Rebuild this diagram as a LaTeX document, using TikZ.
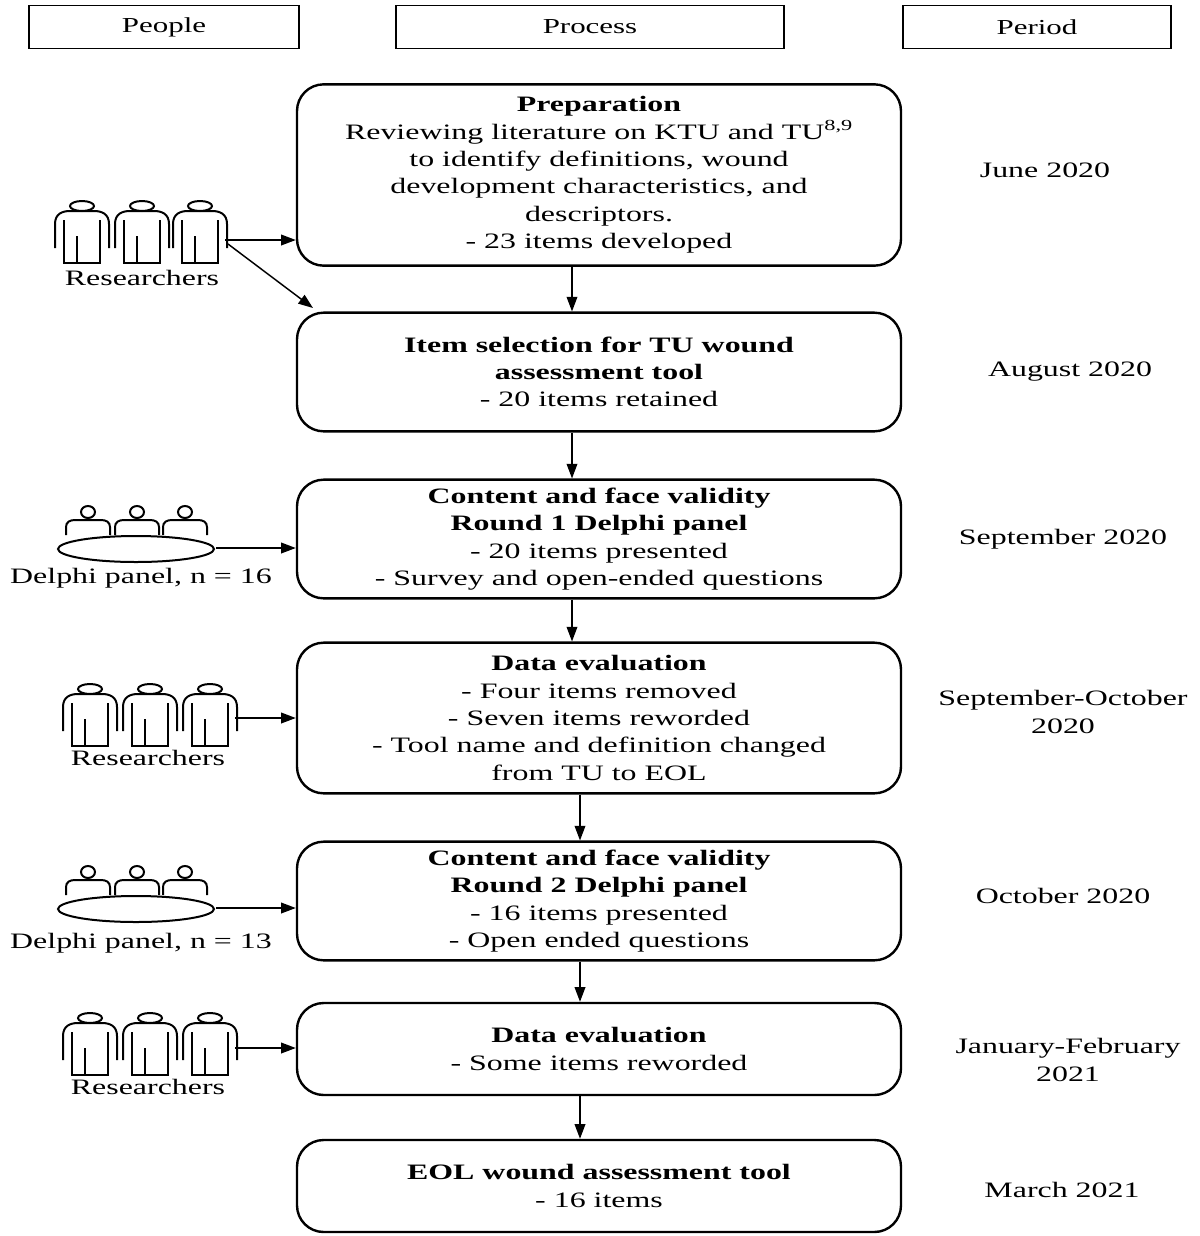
\documentclass[tikz,border=0pt]{standalone}
\usepackage{fontspec}
\setmainfont{Liberation Serif}[FakeStretch=1.45]
\usetikzlibrary{arrows.meta}
\begin{document}
\begin{tikzpicture}[x=0.75pt,y=-0.75pt,
  hdr/.style={draw,line width=1pt,minimum width=#1*0.75pt,minimum height=32pt,inner sep=0pt,font=\fontsize{16}{18}\selectfont},
  box/.style={draw,line width=1.8pt,rounded corners=20pt,minimum width=453pt,align=center,font=\fontsize{16.5}{20.5}\selectfont},
  per/.style={align=center,font=\fontsize{16.5}{20.5}\selectfont},
  lab/.style={font=\fontsize{16.5}{20}\selectfont},
  arr/.style={-{Triangle[length=11pt,width=8pt]},line width=1.1pt},
  icon/.style={line width=1.5pt}]
\useasboundingbox (0,0) rectangle (1200,1236);
\tikzset{
 researcher/.pic={
   \draw[icon] (0,6) ellipse (12 and 5);
   \draw[icon] (-27,48) -- (-27,24) .. controls (-27,14) and (-20,11) .. (-12,11) -- (12,11) .. controls (20,11) and (27,14) .. (27,24) -- (27,48);
   \draw[icon] (-18,20) -- (-18,63) -- (18,63) -- (18,20);
   \draw[icon] (-5,63) -- (-5,36);
 },
 delphi/.pic={
   \draw[icon] (0,-8) circle (7 and 6);
   \draw[icon] (-22,15) -- (-22,7) .. controls (-22,2) and (-18,0) .. (-13,0) -- (13,0) .. controls (18,0) and (22,2) .. (22,7) -- (22,15);
 }}
% headers
\node[hdr=270] (hp) at (164,27) {People};
\node[hdr=388] (hq) at (590,27) {Process};
\node[hdr=268] (hr) at (1037,27) {Period};
% boxes
\node[box,minimum height=136pt] (b1) at (599,175) {\textbf{Preparation}\\Reviewing literature on KTU and TU\textsuperscript{8,9}\\to identify definitions, wound\\development characteristics, and\\descriptors.\\- 23 items developed};
\node[box,minimum height=89pt] (b2) at (599,372) {\textbf{Item selection for TU wound}\\\textbf{assessment tool}\\- 20 items retained};
\node[box,minimum height=89pt] (b3) at (599,539) {\textbf{Content and face validity}\\\textbf{Round 1 Delphi panel}\\- 20 items presented\\- Survey and open-ended questions};
\node[box,minimum height=113pt] (b4) at (599,718) {\textbf{Data evaluation}\\- Four items removed\\- Seven items reworded\\- Tool name and definition changed\\from TU to EOL};
\node[box,minimum height=89pt] (b5) at (599,901) {\textbf{Content and face validity}\\\textbf{Round 2 Delphi panel}\\- 16 items presented\\- Open ended questions};
\node[box,minimum height=69pt] (b6) at (599,1049) {\textbf{Data evaluation}\\- Some items reworded};
\node[box,minimum height=69pt] (b7) at (599,1186) {\textbf{EOL wound assessment tool}\\- 16 items};
% periods
\node[per] (p1) at (1045,170) {June 2020};
\node[per] (p2) at (1070,372) {August 2020};
\node[per] (p3) at (1063,539) {September 2020};
\node[per] (p4) at (1063,712) {September-October\\2020};
\node[per] (p5) at (1063,896) {October 2020};
\node[per] (p6) at (1068,1060) {January-February\\2021};
\node[per] (p7) at (1062,1190) {March 2021};
% vertical arrows
\foreach \a/\b/\x in {b1/b2/572,b2/b3/572,b3/b4/572,b4/b5/580,b5/b6/580,b6/b7/580}
  \draw[arr] (\a.south -| \x,0) -- (\b.north -| \x,0);
% researchers 1
\foreach \x in {82,142,200} \pic at (\x,200) {researcher};
\node[lab] (r1) at (142,278) {Researchers};
\coordinate (r1a) at (225,240);
\draw[arr] (r1a) -- (b1.west |- r1a);
\draw[arr] (228,244) -- (313,308);
% delphi 1
\foreach \x in {88,137,185} \pic at (\x,520) {delphi};
\draw[icon] (136,549) ellipse (78 and 13);
\node[lab] (d1) at (141,578) {Delphi panel, n = 16};
\coordinate (d1a) at (216,548);
\draw[arr] (d1a) -- (b3.west |- d1a);
% researchers 2
\foreach \x in {90,150,210} \pic at (\x,683) {researcher};
\node[lab] (r2) at (148,758) {Researchers};
\coordinate (r2a) at (235,718);
\draw[arr] (r2a) -- (b4.west |- r2a);
% delphi 2
\foreach \x in {88,137,185} \pic at (\x,880) {delphi};
\draw[icon] (136,909) ellipse (78 and 13);
\node[lab] (d2) at (141,943) {Delphi panel, n = 13};
\coordinate (d2a) at (216,908);
\draw[arr] (d2a) -- (b5.west |- d2a);
% researchers 3
\foreach \x in {90,150,210} \pic at (\x,1012) {researcher};
\node[lab] (r3) at (148,1087) {Researchers};
\coordinate (r3a) at (235,1048);
\draw[arr] (r3a) -- (b6.west |- r3a);
\end{tikzpicture}
\end{document}
